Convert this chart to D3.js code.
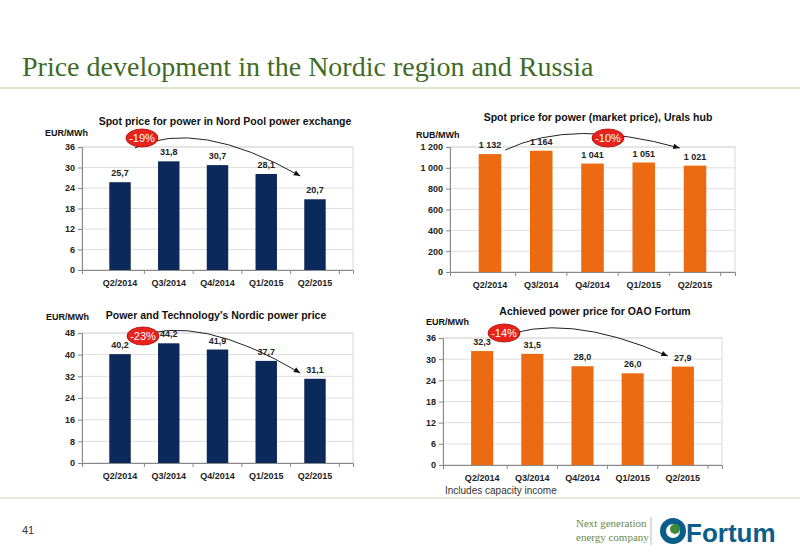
<!DOCTYPE html>
<html><head><meta charset="utf-8">
<script src="https://cdn.jsdelivr.net/npm/d3@7"></script>
<style>
body{margin:0;background:#fff;}
svg{font-family:Arial,"Liberation Sans",sans-serif;}
</style></head>
<body><svg id="c" width="800" height="554"></svg>
<script>
const quarters = ['Q2/2014','Q3/2014','Q4/2014','Q1/2015','Q2/2015'];
const nordPool = [25.7, 31.8, 30.7, 28.1, 20.7];
const urals = [1132, 1164, 1041, 1051, 1021];
const ptNordic = [40.2, 44.2, 41.9, 37.7, 31.1];
const oaoFortum = [32.3, 31.5, 28.0, 26.0, 27.9];

const svg = d3.select('#c');
const navy = '#0b2a5b', orange = '#ec6b12';

// slide header
svg.append('text').attr('x', 22).attr('y', 76)
  .style('font-family', '"Liberation Serif","DejaVu Serif",serif')
  .style('font-size', '28px').attr('fill', '#3f6b25')
  .text('Price development in the Nordic region and Russia');
svg.append('line').attr('x1', 0).attr('x2', 800).attr('y1', 88).attr('y2', 88)
  .attr('stroke', '#b9d39a').attr('stroke-width', 1.2);
svg.append('line').attr('x1', 0).attr('x2', 800).attr('y1', 498).attr('y2', 498)
  .attr('stroke', '#c9dcae').attr('stroke-width', 1);
svg.append('text').attr('x', 22).attr('y', 534).style('font-size', '11px').attr('fill', '#333').text('41');

function chart(o) {
  const g = svg.append('g');
  const x = d3.scaleBand().domain(quarters).range([o.x0, o.x1]).padding(0.56);
  const y = d3.scaleLinear().domain([0, o.max]).range([o.y1, o.y0]);
  const ticks = d3.range(0, o.max + 1, o.step);
  g.append('rect').attr('x', o.x0).attr('y', o.y0).attr('width', o.x1 - o.x0).attr('height', o.y1 - o.y0)
    .attr('fill', 'none').attr('stroke', '#d8d8d8');
  g.selectAll('.gl').data(ticks).join('line')
    .attr('x1', o.x0).attr('x2', o.x1).attr('y1', d => y(d)).attr('y2', d => y(d))
    .attr('stroke', '#dedede');
  const ya = g.append('g').attr('transform', `translate(${o.x0},0)`)
    .call(d3.axisLeft(y).tickValues(ticks).tickSize(4).tickFormat(o.fmt));
  ya.select('.domain').attr('stroke', '#888');
  ya.selectAll('line').attr('stroke', '#888');
  ya.selectAll('text').style('font-size', '9px').style('font-weight', 'bold').attr('fill', '#222');
  const xa = g.append('g').attr('transform', `translate(0,${o.y1})`)
    .call(d3.axisBottom(x).tickSize(4).tickPadding(6));
  xa.select('.domain').attr('stroke', '#888');
  xa.selectAll('line').attr('stroke', '#888').attr('transform', `translate(${x.step() / 2},0)`);
  xa.selectAll('text').style('font-size', '9px').style('font-weight', 'bold').attr('fill', '#222');
  g.selectAll('.bar').data(o.values).join('rect')
    .attr('x', (d, i) => x(quarters[i])).attr('width', x.bandwidth())
    .attr('y', d => y(d)).attr('height', d => y(0) - y(d)).attr('fill', o.color);
  g.selectAll('.vl').data(o.values).join('text')
    .attr('x', (d, i) => x(quarters[i]) + x.bandwidth() / 2).attr('y', d => y(d) - 6)
    .attr('text-anchor', 'middle').style('font-size', '9px').style('font-weight', 'bold').attr('fill', '#222')
    .text(o.vfmt);
  g.append('text').attr('x', o.tx).attr('y', o.ty).attr('text-anchor', 'middle')
    .style('font-size', '10.5px').style('font-weight', 'bold').attr('fill', '#111').text(o.title);
  g.append('text').attr('x', o.ux).attr('y', o.uy).style('font-size', '9px').style('font-weight', 'bold')
    .attr('fill', '#111').text(o.unit);
  // arrow
  const sx = x(quarters[0]) + x.bandwidth() + 4, sy = o.ay0;
  const ex = x(quarters[4]) - 4, ey = o.ay1;
  const cx = (sx + ex) / 2 - 20, cy = o.ayc;
  g.append('path').attr('d', `M${sx},${sy} Q${cx},${cy} ${ex},${ey}`)
    .attr('fill', 'none').attr('stroke', '#222').attr('stroke-width', 1);
  const ang = Math.atan2(ey - cy, ex - cx);
  const ah = 7;
  g.append('path').attr('d', `M${ex},${ey} L${ex - ah * Math.cos(ang - 0.4)},${ey - ah * Math.sin(ang - 0.4)} L${ex - ah * Math.cos(ang + 0.4)},${ey - ah * Math.sin(ang + 0.4)}Z`)
    .attr('fill', '#111');
  g.append('ellipse').attr('cx', o.bx).attr('cy', o.by).attr('rx', 16).attr('ry', 9)
    .attr('fill', '#e8231b').attr('stroke', '#a00').attr('stroke-width', 0.8);
  g.append('text').attr('x', o.bx).attr('y', o.by + 4).attr('text-anchor', 'middle')
    .style('font-size', '11px').attr('fill', '#fff').text(o.badge);
}

const dec = d => d.toFixed(1).replace('.', ',');
const thou = d => d >= 1000 ? Math.floor(d / 1000) + ' ' + String(d % 1000).padStart(3, '0') : String(d);

chart({ values: nordPool, color: navy, max: 36, step: 6, x0: 82, x1: 353, y0: 147, y1: 270,
  fmt: d => d, vfmt: dec, title: 'Spot price for power in Nord Pool power exchange', tx: 225, ty: 125,
  unit: 'EUR/MWh', ux: 45, uy: 136, badge: '-19%', bx: 142, by: 138, ay0: 148, ay1: 176, ayc: 118 });
chart({ values: urals, color: orange, max: 1200, step: 200, x0: 450, x1: 735, y0: 147, y1: 272,
  fmt: thou, vfmt: thou, title: 'Spot price for power (market price), Urals hub', tx: 598, ty: 121,
  unit: 'RUB/MWh', ux: 416, uy: 138, badge: '-10%', bx: 608, by: 138, ay0: 150, ay1: 148, ayc: 118 });
chart({ values: ptNordic, color: navy, max: 48, step: 8, x0: 82, x1: 353, y0: 333, y1: 463,
  fmt: d => d, vfmt: dec, title: "Power and Technology's Nordic power price", tx: 216, ty: 319,
  unit: 'EUR/MWh', ux: 46, uy: 320, badge: '-23%', bx: 143, by: 336, ay0: 338, ay1: 373, ayc: 312 });
chart({ values: oaoFortum, color: orange, max: 36, step: 6, x0: 443, x1: 722, y0: 338, y1: 465,
  fmt: d => d, vfmt: dec, title: 'Achieved power price for OAO Fortum', tx: 595, ty: 315,
  unit: 'EUR/MWh', ux: 426, uy: 325, badge: '-14%', bx: 504, by: 333, ay0: 339, ay1: 356, ayc: 310 });

svg.append('text').attr('x', 445).attr('y', 494).style('font-size', '10px').attr('fill', '#333')
  .text('Includes capacity income');

// logo
const serif = '"Liberation Serif","DejaVu Serif",serif';
svg.append('text').attr('x', 576).attr('y', 527).style('font-family', serif).style('font-size', '11px')
  .attr('fill', '#6a8a4a').text('Next generation');
svg.append('text').attr('x', 576).attr('y', 541).style('font-family', serif).style('font-size', '11px')
  .attr('fill', '#6a8a4a').text('energy company');
svg.append('line').attr('x1', 651).attr('x2', 651).attr('y1', 517).attr('y2', 545).attr('stroke', '#bbb');
svg.append('circle').attr('cx', 673).attr('cy', 531).attr('r', 10).attr('fill', 'none')
  .attr('stroke', '#0b5e8a').attr('stroke-width', 6);
svg.append('circle').attr('cx', 675).attr('cy', 529).attr('r', 5).attr('fill', '#3f8a3a');
svg.append('text').attr('x', 686).attr('y', 542).style('font-size', '26px').style('font-weight', 'bold')
  .attr('fill', '#0b5e8a').text('Fortum');
</script></body></html>
